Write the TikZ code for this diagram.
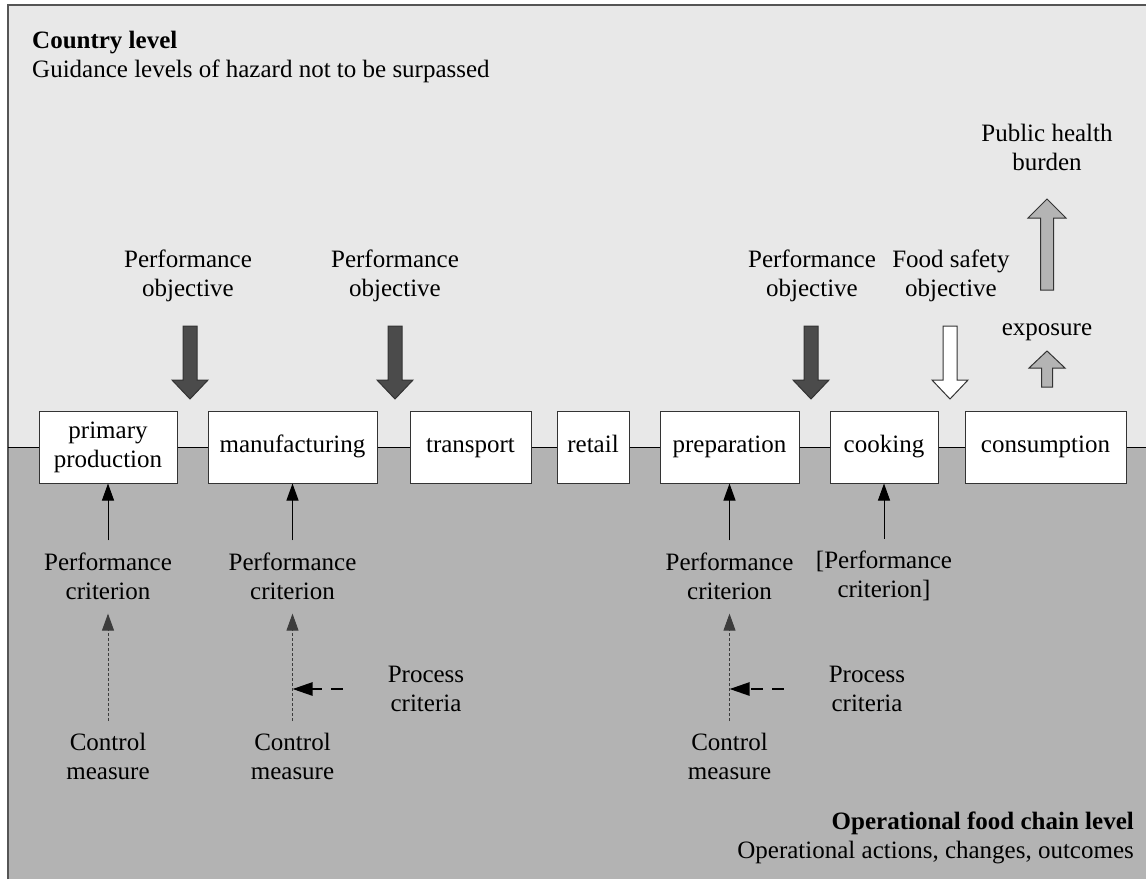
\documentclass[tikz,border=0pt]{standalone}
\usepackage{fontspec}
\setmainfont{Liberation Serif}
\usetikzlibrary{arrows.meta}

\definecolor{skytop}{HTML}{E8E8E8}
\definecolor{ground}{HTML}{B3B3B3}
\definecolor{darkarrow}{HTML}{4B4B4B}
\definecolor{midarrow}{HTML}{B4B4B4}
\definecolor{edgegray}{HTML}{333333}
\definecolor{framegray}{HTML}{555555}
\definecolor{dotgray}{HTML}{3C3C3C}

\tikzset{
  txt/.style={font=\fontsize{25}{29}\selectfont, align=center, inner sep=0pt},
  stage/.style={draw=edgegray, line width=1pt, fill=white, minimum height=72pt,
    inner sep=0pt, font=\fontsize{25}{29}\selectfont, align=center},
  oneline/.style={text height=17pt, text depth=6pt},
  chainline/.style={draw=black, line width=0.9pt},
  solidup/.style={draw=black, line width=1pt, -{Triangle[length=17pt,width=12pt]}},
  dottedup/.style={draw=dotgray, line width=0.9pt, dash pattern=on 3pt off 2pt,
    -{Triangle[length=17pt,width=12pt]}},
  procarrow/.style={draw=black, line width=2.5pt, dash pattern=on 12pt off 9pt,
    -{Triangle[length=20pt,width=13pt]}},
  fat/.style={draw=edgegray, line width=1pt, line join=miter},
  downfat/.pic={\draw[fat,pic actions] (-7,0) -- (7,0) -- (7,54) -- (18,54) -- (0,73)
    -- (-18,54) -- (-7,54) -- cycle;}
}

\begin{document}
\begin{tikzpicture}[x=1pt,y=-1pt]
\useasboundingbox (0,0) rectangle (1146,879);
\clip (0,0) rectangle (1146,879);

% two levels: country (top) and operational chain (bottom)
\fill[skytop] (8,5) rectangle (1146,447);
\fill[ground] (8,447) rectangle (1146,879);
\draw[framegray, line width=2pt] (8,879) -- (8,5) -- (1146,5);

\node[txt, anchor=west, align=left] (country) at (32,57)
  {\textbf{Country level}\\Guidance levels of hazard not to be surpassed};
\node[txt, anchor=east, align=right] (oper) at (1134,838)
  {\textbf{Operational food chain level}\\Operational actions, changes, outcomes};

% food chain stages
\coordinate (L) at (8,447);
\coordinate (R) at (1146,447);
\node[stage, minimum width=138pt] (pp)   at (108,447)    {primary\\production};
\node[stage, oneline, minimum width=169pt] (mf)   at (292.5,447)  {manufacturing};
\node[stage, oneline, minimum width=121pt] (tr)   at (470.5,447)  {transport};
\node[stage, oneline, minimum width=72pt]  (rt)   at (593,447)    {retail};
\node[stage, oneline, minimum width=139pt] (prep) at (729.5,447)  {preparation};
\node[stage, oneline, minimum width=108pt] (cook) at (884,447)    {cooking};
\node[stage, oneline, minimum width=161pt] (cons) at (1045.5,447) {consumption};

\draw[chainline] (L) -- (pp.west) (pp.east) -- (mf.west) (mf.east) -- (tr.west)
  (tr.east) -- (rt.west) (rt.east) -- (prep.west) (prep.east) -- (cook.west)
  (cook.east) -- (cons.west) (cons.east) -- (R);

% objectives set at country level
\node[txt] (po1) at (188,275.5) {Performance\\objective};
\node[txt] (po2) at (395,275.5) {Performance\\objective};
\node[txt] (po3) at (812,275.5) {Performance\\objective};
\node[txt] (fso) at (951,275.5) {Food safety\\objective};
\node[txt] (phb) at (1047,147.5) {Public health\\burden};
\node[txt, oneline] (expo) at (1047,330) {exposure};

\pic[fill=darkarrow] at (190,326) {downfat};
\pic[fill=darkarrow] at (395,326) {downfat};
\pic[fill=darkarrow] at (811,326) {downfat};
\pic[fill=white]     at (950,326) {downfat};

% exposure and burden arrows
\draw[fat, fill=midarrow] (1040.5,290) -- (1040.5,218) -- (1028,218) -- (1047,199)
  -- (1066,218) -- (1053.5,218) -- (1053.5,290) -- cycle;
\draw[fat, fill=midarrow] (1041.5,387) -- (1041.5,368) -- (1029,368) -- (1047,351)
  -- (1065,368) -- (1052.5,368) -- (1052.5,387) -- cycle;

% performance criteria
\node[txt] (pc1) at (108,576)   {Performance\\criterion};
\node[txt] (pc2) at (292.5,576) {Performance\\criterion};
\node[txt] (pc3) at (729.5,576) {Performance\\criterion};
\node[txt] (pc4) at (884,576)   {[Performance\\criterion]};

\draw[solidup, shorten <=12pt] (pc1) -- (pp);
\draw[solidup, shorten <=12pt] (pc2) -- (mf);
\draw[solidup, shorten <=12pt] (pc3) -- (prep);
\draw[solidup, shorten <=12pt] (pc4) -- (cook);

% control measures
\node[txt] (cm1) at (108,756.5)   {Control\\measure};
\node[txt] (cm2) at (292.5,756.5) {Control\\measure};
\node[txt] (cm3) at (729.5,756.5) {Control\\measure};

\draw[dottedup, shorten <=12pt, shorten >=14pt] (cm1) -- (pc1);
\draw[dottedup, shorten <=12pt, shorten >=14pt] (cm2) -- (pc2);
\draw[dottedup, shorten <=12pt, shorten >=14pt] (cm3) -- (pc3);

% process criteria
\node[txt] (pr1) at (426,689) {Process\\criteria};
\node[txt] (pr2) at (867,689) {Process\\criteria};
\coordinate (m1) at (292.5,689);
\coordinate (m2) at (729.5,689);
\draw[procarrow, shorten <=45pt] (pr1) -- (m1);
\draw[procarrow, shorten <=45pt] (pr2) -- (m2);
\end{tikzpicture}
\end{document}
